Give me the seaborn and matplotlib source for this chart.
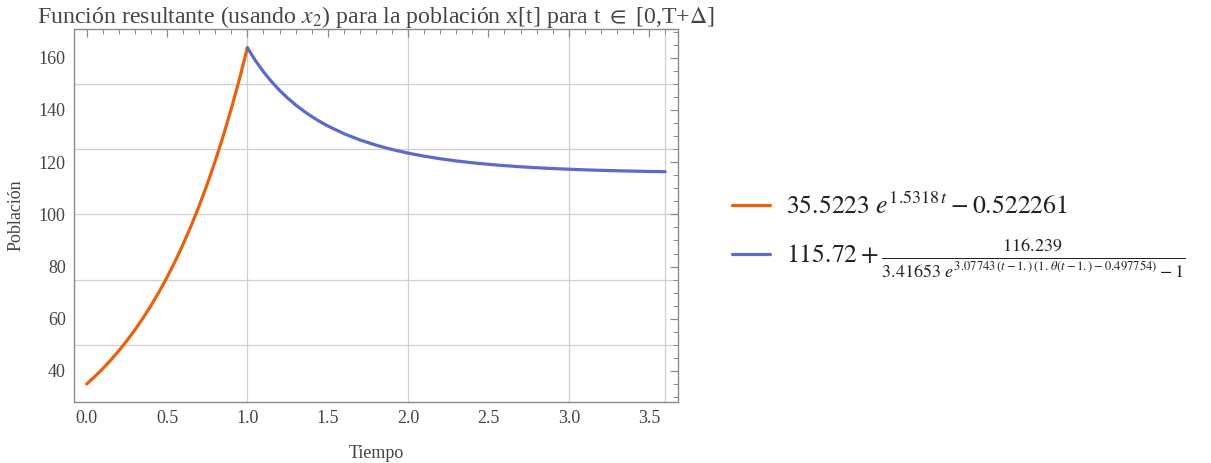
import matplotlib
matplotlib.use("Agg")
import matplotlib.pyplot as plt
from matplotlib.ticker import MultipleLocator
import seaborn as sns
import pandas as pd

# ---- data ----
t_growth = [0.0, 0.05, 0.1, 0.15, 0.2, 0.25, 0.3, 0.35, 0.4, 0.45, 0.5,
            0.55, 0.6, 0.65, 0.7, 0.75, 0.8, 0.85, 0.9, 0.95, 1.0]
x_growth = [35.0, 37.83, 40.88, 44.18, 47.73, 51.57, 55.72, 60.20, 65.03, 70.25,
            75.89, 81.97, 88.53, 95.62, 103.28, 111.54, 120.46, 130.09, 140.49,
            151.71, 163.83]

t_decay = [1.0, 1.05, 1.1, 1.15, 1.2, 1.25, 1.3, 1.35, 1.4, 1.45, 1.5, 1.6, 1.7,
           1.8, 1.9, 2.0, 2.1, 2.2, 2.3, 2.4, 2.5, 2.6, 2.7, 2.8, 2.9, 3.0,
           3.1, 3.2, 3.3, 3.4, 3.5, 3.6]
x_decay = [163.82, 158.91, 154.63, 150.86, 147.53, 144.58, 141.95, 139.60, 137.49,
           135.59, 133.88, 130.94, 128.52, 126.52, 124.85, 123.46, 122.29, 121.30,
           120.47, 119.76, 119.17, 118.66, 118.23, 117.87, 117.55, 117.29, 117.06,
           116.87, 116.70, 116.56, 116.44, 116.34]

label_growth = r"$35.5223\ \mathit{e}^{1.5318\,t} - 0.522261$"
label_decay = (r"$115.72 + \frac{116.239}{3.41653\ \mathit{e}^{3.07743\,(t-1.)\,"
               r"(1.\,\theta(t-1.)-0.497754)}-1}$")

h_grid = [50, 75, 100, 125, 150]
v_grid = [1.0, 2.0, 3.0, 3.6]

title = r"Función resultante (usando $x_2$) para la población x[t] para t $\in$ [0,T+$\Delta$]"
xlabel = "Tiempo"
ylabel = "Población"

# ---- style ----
sns.set_theme(style="white")
plt.rcParams["font.family"] = ["Liberation Serif", "DejaVu Serif"]
plt.rcParams["mathtext.fontset"] = "stix"

orange = "#E8620E"
blue = "#5A6ACD"
frame_col = "#8a8a8a"
text_col = "#444444"

fig = plt.figure(figsize=(12.11, 4.63), dpi=100)
ax = fig.add_axes([0.0611, 0.1317, 0.4988, 0.8056])

for y in h_grid:
    ax.axhline(y, color="#d0d0d0", lw=0.9, zorder=0)
for x in v_grid:
    ax.axvline(x, color="#d0d0d0", lw=0.9, zorder=0)

df_g = pd.DataFrame({"t": t_growth, "x": x_growth})
df_d = pd.DataFrame({"t": t_decay, "x": x_decay})
sns.lineplot(data=df_g, x="t", y="x", ax=ax, color=orange, lw=2.3, label=label_growth, zorder=3)
sns.lineplot(data=df_d, x="t", y="x", ax=ax, color=blue, lw=2.3, label=label_decay, zorder=3)

ax.set_xlim(-0.079, 3.68)
ax.set_ylim(28.1, 171)

ax.xaxis.set_major_locator(MultipleLocator(0.5))
ax.xaxis.set_minor_locator(MultipleLocator(0.1))
ax.yaxis.set_major_locator(MultipleLocator(20))
ax.yaxis.set_minor_locator(MultipleLocator(5))
ax.xaxis.set_major_formatter(matplotlib.ticker.FormatStrFormatter("%.1f"))

ax.tick_params(which="both", direction="in", top=True, right=True,
               color=frame_col, labelcolor=text_col, labelsize=13)
ax.tick_params(which="major", length=6, width=0.9, pad=6)
ax.tick_params(which="minor", length=3.5, width=0.7)
for s in ax.spines.values():
    s.set_color(frame_col)
    s.set_linewidth(1.0)

ax.set_xlabel(xlabel, fontsize=13, color=text_col, labelpad=13)
ax.set_ylabel(ylabel, fontsize=13, color=text_col, labelpad=10)
ax.set_title(title, fontsize=17.2, color=text_col, pad=4)

handles, labels = ax.get_legend_handles_labels()
ax.get_legend().remove()
fig.legend(handles, labels, loc="center left", bbox_to_anchor=(0.585, 0.49),
           frameon=False, fontsize=18.5, handlelength=1.5, handletextpad=0.6,
           labelspacing=0.72, labelcolor="#222222")

fig.savefig("out.png", dpi=100)
